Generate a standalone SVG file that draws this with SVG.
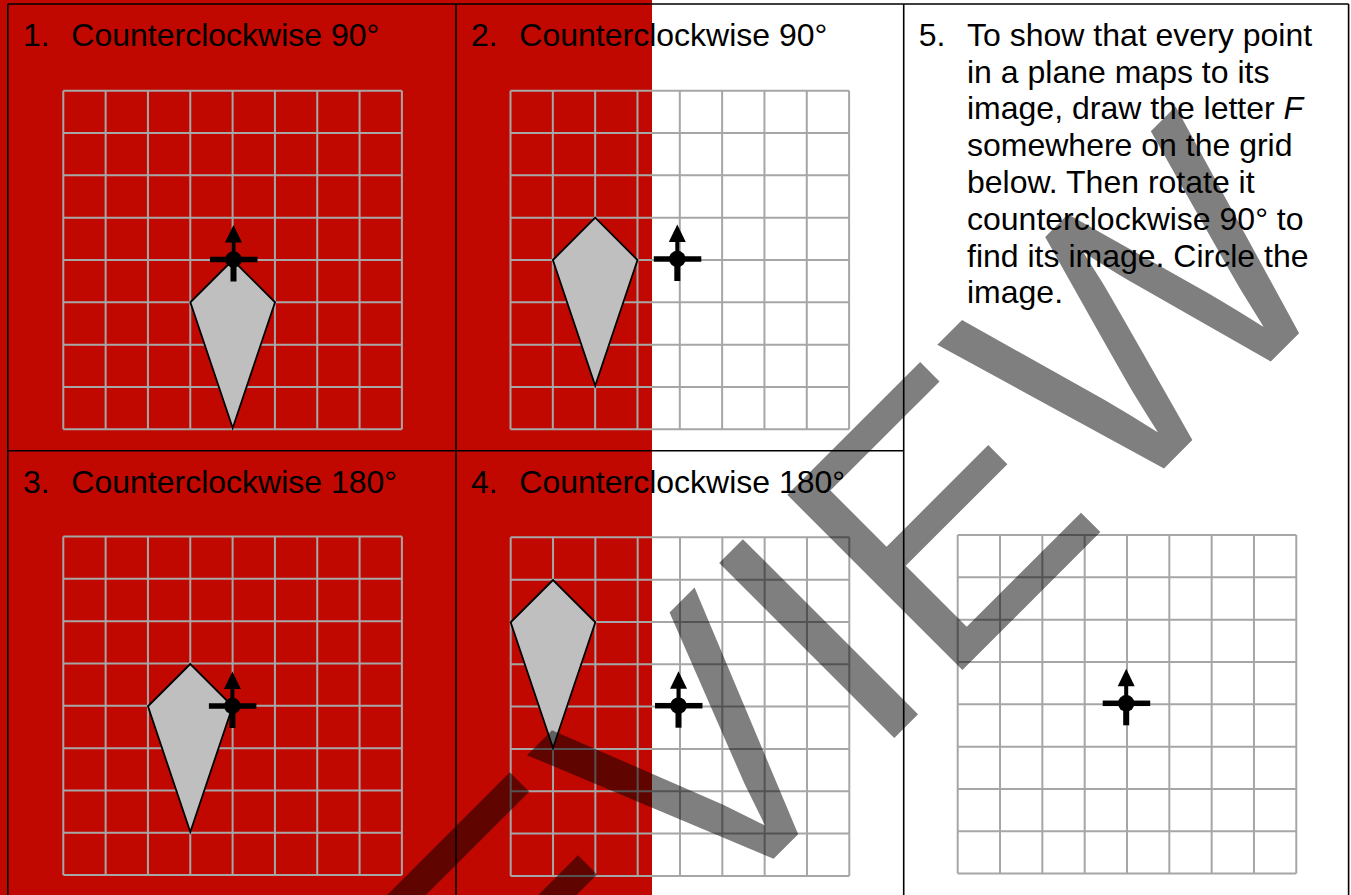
<svg xmlns="http://www.w3.org/2000/svg" xmlns:xlink="http://www.w3.org/1999/xlink" width="1351" height="895" viewBox="0 0 1351 895">
  <style>
    .grid { fill: none; stroke: #A6A6A6; stroke-width: 2; }
    .kite { fill: #BFBFBF; stroke: #000; stroke-width: 1.8; stroke-linejoin: miter; }
    .border { stroke: #000; stroke-width: 1.6; fill: none; }
    .t { font-family: "Liberation Sans", Arial, sans-serif; font-size: 32px; fill: #000; }
    .wm { font-family: "Liberation Sans", Arial, sans-serif; font-size: 360px; fill: #000; fill-opacity: 0.5; }
  </style>
  <defs>
    <path id="gridpath" class="grid" d="M0 0V338.6M42.33 0V338.6M84.65 0V338.6M126.98 0V338.6M169.3 0V338.6M211.63 0V338.6M253.95 0V338.6M296.28 0V338.6M338.6 0V338.6M0 0H338.6M0 42.33H338.6M0 84.65H338.6M0 126.98H338.6M0 169.3H338.6M0 211.63H338.6M0 253.95H338.6M0 296.28H338.6M0 338.6H338.6"/>
    <path id="kitepath" class="kite" d="M0 0L-42.33 42.33L0 168L42.33 42.33Z"/>
    <g id="marker">
      <rect x="-23.5" y="-2.75" width="47.5" height="5.5" fill="#000"/>
      <rect x="-3" y="0" width="6" height="22" fill="#000"/>
      <rect x="-2" y="-20" width="4" height="20" fill="#000"/>
      <polygon points="0,-34.5 8.5,-17 -8.5,-17" fill="#000"/>
      <circle cx="0" cy="0" r="8.3" fill="#000"/>
    </g>
  </defs>

  <rect x="0" y="0" width="1351" height="895" fill="#FFFFFF"/>
  <rect id="red-overlay" x="0" y="0" width="652" height="895" fill="#C00800"/>

  <g id="panel1">
    <use xlink:href="#gridpath" x="63.3" y="90.7"/>
    <use xlink:href="#kitepath" x="232.7" y="260"/>
    <use xlink:href="#marker" x="233.5" y="259.5"/>
    <text class="t" x="23" y="45.7">1.</text>
    <text class="t" x="71.3" y="45.7">Counterclockwise 90°</text>
  </g>

  <g id="panel2">
    <use xlink:href="#gridpath" x="510.5" y="90.7"/>
    <use xlink:href="#kitepath" x="595.2" y="217.7"/>
    <use xlink:href="#marker" x="677.3" y="259"/>
    <text class="t" x="471" y="45.7">2.</text>
    <text class="t" x="519.3" y="45.7">Counterclockwise 90°</text>
  </g>

  <g id="panel3">
    <use xlink:href="#gridpath" x="63.3" y="536.5"/>
    <use xlink:href="#kitepath" x="190.3" y="664"/>
    <use xlink:href="#marker" x="232.4" y="706"/>
    <text class="t" x="23" y="492.6">3.</text>
    <text class="t" x="71.3" y="492.6">Counterclockwise 180°</text>
  </g>

  <g id="panel4">
    <use xlink:href="#gridpath" x="510.7" y="537.3"/>
    <use xlink:href="#kitepath" x="553" y="580"/>
    <use xlink:href="#marker" x="678.5" y="705.7"/>
    <text class="t" x="471" y="492.6">4.</text>
    <text class="t" x="519.3" y="492.6">Counterclockwise 180°</text>
  </g>

  <g id="panel5">
    <use xlink:href="#gridpath" x="957.7" y="535"/>
    <use xlink:href="#marker" x="1126.2" y="703.3"/>
    <text class="t" x="918.7" y="45.7">5.</text>
    <text class="t" x="967" y="45.7">To show that every point</text>
    <text class="t" x="967" y="82.5">in a plane maps to its</text>
    <text class="t" x="967" y="119.3">image, draw the letter <tspan font-style="italic">F</tspan></text>
    <text class="t" x="967" y="156.1">somewhere on the grid</text>
    <text class="t" x="967" y="192.9">below. Then rotate it</text>
    <text class="t" x="967" y="229.7">counterclockwise 90° to</text>
    <text class="t" x="967" y="266.5">find its image. Circle the</text>
    <text class="t" x="967" y="303.3">image.</text>
  </g>

  <g id="table-lines">
    <path class="border" d="M7.8 4H1348.6M7.8 4V895M456 4V895M903.7 4V895M1348.6 4V895M7.8 450.8H903.7"/>
  </g>

  <g id="watermark">
    <text class="wm" transform="translate(177.6 1454.8) rotate(-45)" x="0" y="0">PREVIEW</text>
  </g>
</svg>
